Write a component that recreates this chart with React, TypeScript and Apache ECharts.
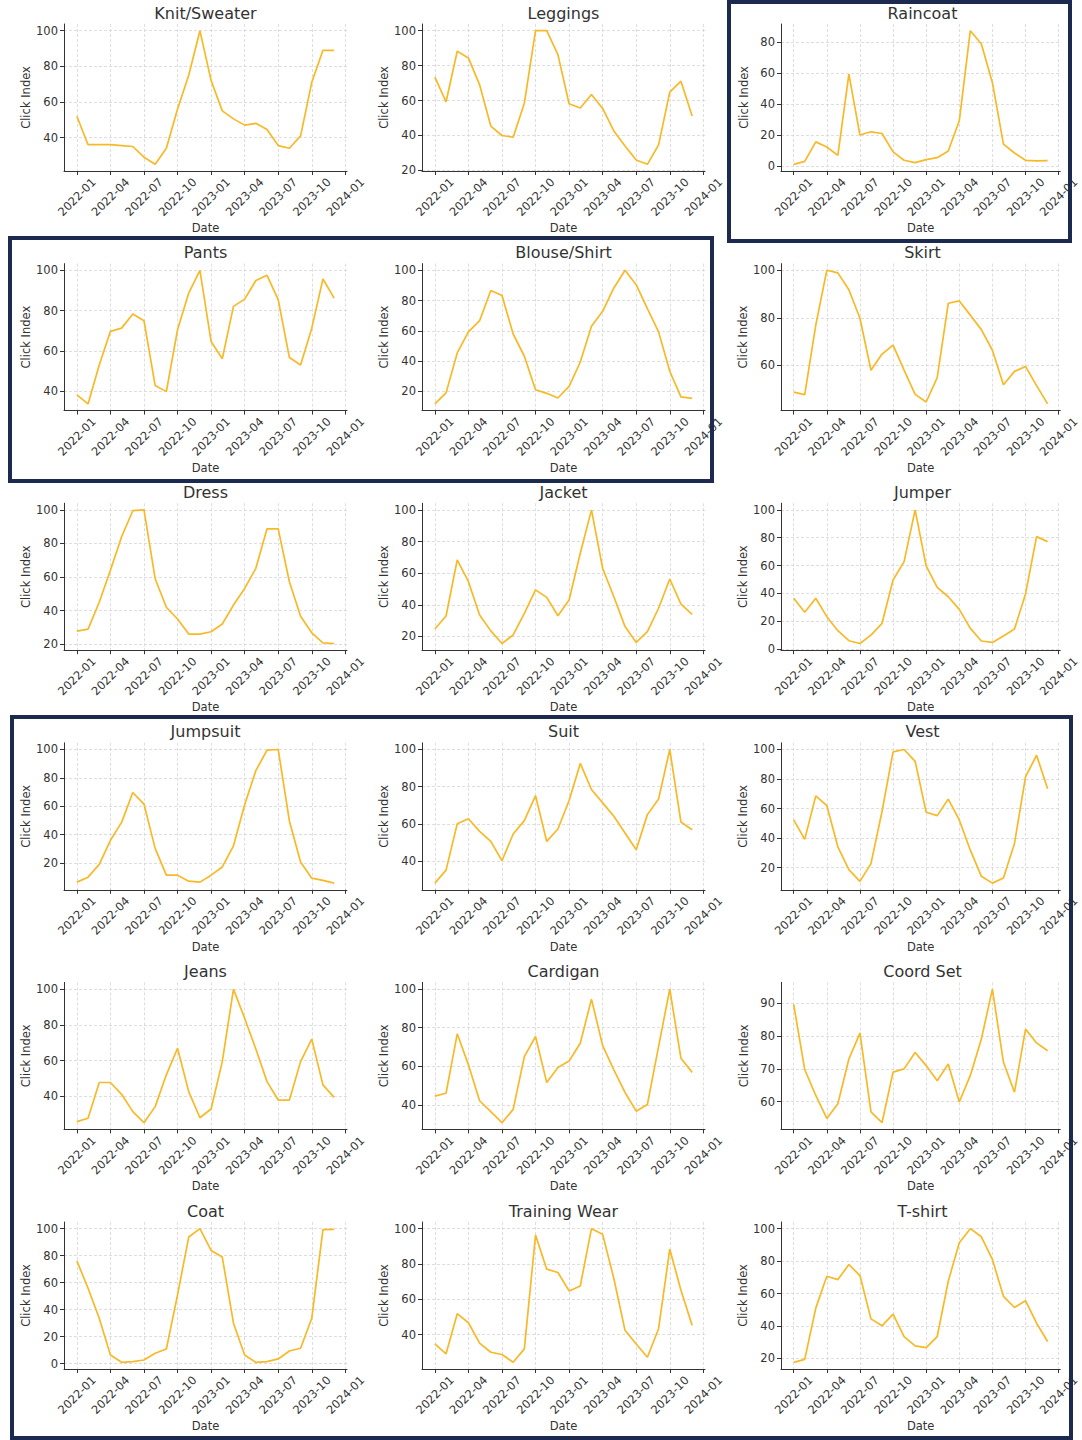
import React, { useEffect, useRef } from "react";
import * as echarts from "echarts";

// Monthly points 2022-01 .. 2023-12 (index 0..23)
const months = [
  "2022-01","2022-02","2022-03","2022-04","2022-05","2022-06","2022-07","2022-08","2022-09","2022-10","2022-11","2022-12",
  "2023-01","2023-02","2023-03","2023-04","2023-05","2023-06","2023-07","2023-08","2023-09","2023-10","2023-11","2023-12",
];
const xTickPos = [0, 3, 6, 9, 12, 15, 18, 21, 24];
const xTickLabels = ["2022-01","2022-04","2022-07","2022-10","2023-01","2023-04","2023-07","2023-10","2024-01"];

const titles = [
  "Knit/Sweater","Leggings","Raincoat",
  "Pants","Blouse/Shirt","Skirt",
  "Dress","Jacket","Jumper",
  "Jumpsuit","Suit","Vest",
  "Jeans","Cardigan","Coord Set",
  "Coat","Training Wear","T-shirt",
];

const knit = [52,36,36,36,35.5,35,29,25,34,56,75,100,72,55,50.5,47,48,44.5,35.5,34,41,71,89,89];
const leggings = [73.4,59.3,88.2,84.4,69,45.4,40,39,58.5,100,100,86.3,58.2,55.7,63.5,55.5,42.6,34,26,23.5,34.6,64.8,71.1,51.1];
const raincoat = [1.3,3.2,15.8,12.5,7.1,59.6,20.2,22.3,21.2,9.3,3.9,2.4,4.3,5.6,9.9,29.4,87.6,79,54,14.3,8.6,3.9,3.5,3.7];
const pants = [38.2,33.7,53,69.7,71.3,78.3,75,42.8,39.8,70.5,88.7,100,64.7,56.1,82.1,85.7,94.9,97.5,85.4,56.7,53,71.3,95.7,86.2];
const blouse = [11.7,19,45.4,59.3,66.7,86.6,83.3,57.9,43.2,21.1,18.7,15.6,23.3,39.4,63,72.9,88.3,100,90.5,74.7,59.3,33.3,16.3,15.4];
const skirt = [48.7,47.6,76.9,100,98.9,91.8,79.8,57.9,64.7,68.5,57.9,47.7,44.5,54.8,86.1,87.1,81.1,75,66.3,51.8,57.4,59.5,51.4,43.7];
const dress = [27.8,29,45,64,84,99.5,100,59,42,35,26,26,27.4,32,43.3,53.2,65.2,88.7,88.7,57.2,36.7,26.8,20.8,20.4];
const jacket = [24.7,32.9,68.4,54.6,33.5,23.5,15.5,20.9,34.6,49.4,44.7,33.1,43,72.6,100,63.1,45.1,26.2,16.2,23,37.8,56.3,40.4,34];
const jumper = [36.5,26.4,36.5,23.3,13.2,6,4,10,18.5,49.6,62.8,100,59.7,44.4,37.6,28.5,14.9,5.8,4.8,9.4,14.4,39.6,80.8,77.2];
const jumpsuit = [6.5,10,19,36,48.6,69.7,61.5,30.3,11.4,11.4,7.2,6.5,11.4,17.2,32.1,61,85.1,99.5,100,49.6,20.7,9.3,7.7,5.8];
const suit = [28.2,35.2,60.1,62.8,56,50.6,40.2,54.6,61.8,75.2,50.6,57.3,72.6,92.5,78.5,71.3,64.1,55.1,46.1,65,73.4,100,61,56.9];
const vest = [52.3,39.1,68.6,62,34.1,18.6,10.7,22.7,58,98.4,100,92,57.5,55.2,66.4,52.3,31.8,14.1,9.5,13,36.4,81.4,96.1,73.4];
const jeans = [25.8,27.7,47.7,47.7,41.1,31.4,25.2,34.2,52,66.9,42.6,28,32.9,59.4,100,83.7,66.5,48.2,37.9,37.9,59.4,72,46.4,39.4];
const cardigan = [44.5,46,76.8,60.7,42.1,36.4,30.7,37.6,65,75.4,51.5,59.3,62.7,71.9,94.8,70.7,58.1,46.4,36.7,40.2,70.2,100,64.1,56.8];
const coordSet = [89.6,69.8,61.9,54.9,59.4,73,80.9,56.9,53.6,69,70,75,71,66.4,71.5,59.9,68,79.1,94.3,72,62.9,82.1,77.9,75.5];
const coat = [76.2,55.9,33.7,6.4,1,1.5,2.7,7.7,10.9,51,93.8,100,83.9,79,30,6.4,1,1.5,3.5,9.4,11.4,33.7,99.3,99.5];
const trainingWear = [34.8,29.2,51.9,46.8,35.3,30.1,28.8,24.4,32,96.4,77.1,75.2,64.8,67.6,100,96.8,71.8,42.5,34.8,27.3,43.4,88.4,65.2,45.3];
const tshirt = [17.6,19.4,51,70.7,68.6,77.9,71.1,44.4,40.1,47.3,33.5,27.7,26.7,33.5,67.6,91.3,100,95,81,58.3,51.4,55.6,41.7,30.4];

const allSeries = [
  knit, leggings, raincoat,
  pants, blouse, skirt,
  dress, jacket, jumper,
  jumpsuit, suit, vest,
  jeans, cardigan, coordSet,
  coat, trainingWear, tshirt,
];
const yStep = [20,20,20, 20,20,20, 20,20,20, 20,20,20, 20,20,10, 20,20,20];

const FONT = "DejaVu Sans";
const TEXT = "#333333";
const LINE = "#F7B928";
const NAVY = "#1B2A4E";
const GRIDC = "#d6d6d6";

const colLeft = [64, 422, 781];
const plotW = 283;
const plotH = 147;
const rowTop0 = 24;
const rowStep = 239.6;

function buildOption() {
  const grid: any[] = [];
  const xAxis: any[] = [];
  const yAxis: any[] = [];
  const series: any[] = [];
  const title: any[] = [];

  allSeries.forEach((vals, k) => {
    const r = Math.floor(k / 3);
    const c = k % 3;
    const left = colLeft[c];
    const top = rowTop0 + r * rowStep;
    grid.push({ left, top, width: plotW, height: plotH, containLabel: false });

    const dmin = Math.min(...vals);
    const dmax = Math.max(...vals);
    const span = dmax - dmin;
    const ymin = dmin - 0.05 * span;
    const ymax = dmax + 0.05 * span;
    const step = yStep[k];
    const yTicks: number[] = [];
    for (let t = Math.ceil(ymin / step) * step; t <= ymax + 1e-9; t += step) yTicks.push(t);

    title.push({
      text: titles[k],
      left: left + plotW / 2,
      top: top - 19,
      textAlign: "center",
      padding: 0,
      textStyle: { fontSize: 16, fontWeight: "normal", color: TEXT, fontFamily: FONT },
    });

    xAxis.push({
      gridIndex: k,
      type: "value",
      min: -1.15,
      max: 24.15,
      name: "Date",
      nameLocation: "middle",
      nameGap: 51,
      nameTextStyle: { fontSize: 11.5, color: TEXT, fontFamily: FONT },
      axisLine: { show: true, onZero: false, lineStyle: { color: TEXT, width: 1 } },
      axisTick: { show: true, inside: false, length: 4, customValues: xTickPos, lineStyle: { color: TEXT, width: 1 } },
      axisLabel: {
        customValues: xTickPos,
        formatter: (v: number) => {
          const i = xTickPos.indexOf(Math.round(v));
          return i >= 0 ? xTickLabels[i] : "";
        },
        rotate: 45,
        align: "center",
        verticalAlign: "middle",
        margin: 26,
        fontSize: 11.5,
        color: TEXT,
        fontFamily: FONT,
        showMinLabel: true,
        showMaxLabel: true,
        hideOverlap: false,
      },
      splitLine: { show: true, lineStyle: { color: GRIDC, type: [3, 2], width: 0.8 } },
    });

    yAxis.push({
      gridIndex: k,
      type: "value",
      min: ymin,
      max: ymax,
      name: "Click Index",
      nameLocation: "middle",
      nameGap: 31,
      nameRotate: 90,
      nameTextStyle: { fontSize: 11.5, color: TEXT, fontFamily: FONT },
      axisLine: { show: true, onZero: false, lineStyle: { color: TEXT, width: 1 } },
      axisTick: { show: true, inside: false, length: 4, customValues: yTicks, lineStyle: { color: TEXT, width: 1 } },
      axisLabel: {
        customValues: yTicks,
        formatter: (v: number) => String(Math.round(v)),
        margin: 6,
        fontSize: 11.5,
        color: TEXT,
        fontFamily: FONT,
      },
      splitLine: { show: true, lineStyle: { color: GRIDC, type: [3, 2], width: 0.8 } },
    });

    series.push({
      type: "line",
      xAxisIndex: k,
      yAxisIndex: k,
      data: vals.map((v, i) => [i, v]),
      showSymbol: false,
      symbol: "none",
      lineStyle: { color: LINE, width: 1.7 },
      clip: false,
    });
  });

  const box = (x: number, y: number, w: number, h: number) => ({
    type: "rect",
    shape: { x, y, width: w, height: h },
    style: { fill: "none", stroke: NAVY, lineWidth: 4 },
    z: 100,
  });

  return {
    animation: false,
    backgroundColor: "#ffffff",
    textStyle: { fontFamily: FONT },
    title,
    grid,
    xAxis,
    yAxis,
    series,
    graphic: [
      box(729, 2, 341, 239),
      box(10, 238, 702, 243),
      box(12, 717, 1059, 721),
    ],
  };
}

export default function App() {
  const ref = useRef<HTMLDivElement>(null);
  useEffect(() => {
    if (!ref.current) return;
    const chart = echarts.init(ref.current, null, { renderer: "svg" });
    chart.setOption(buildOption() as any);
    return () => chart.dispose();
  }, []);
  return (
    <div
      ref={ref}
      style={{ position: "absolute", left: 0, top: 0, width: 1082, height: 1440, background: "#fff" }}
    />
  );
}
